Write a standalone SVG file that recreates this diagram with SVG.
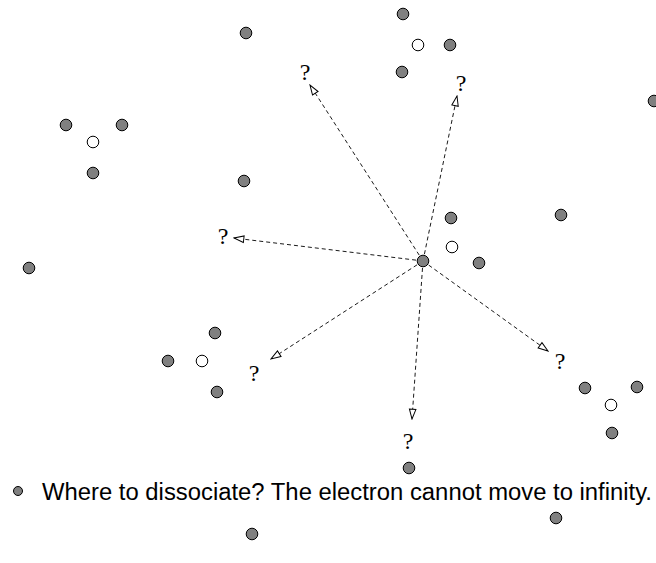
<svg xmlns="http://www.w3.org/2000/svg" width="656" height="563" viewBox="0 0 656 563">
<defs>
<style>
.f{fill:#808080;stroke:#000;stroke-width:1}
.o{fill:#fff;stroke:#000;stroke-width:1}
.c{stroke:#000;stroke-width:0.9;stroke-dasharray:4 3;fill:none;marker-end:url(#ah)}
.q{font-family:"Liberation Serif","Times New Roman",serif;font-size:24px;fill:#000;text-anchor:middle}
.t{font-family:"Liberation Sans",Arial,sans-serif;font-size:23px;fill:#000}
</style>
<marker id="ah" markerUnits="userSpaceOnUse" markerWidth="12" markerHeight="10" refX="9" refY="3" orient="auto" viewBox="-1 -1 11 8">
<path d="M0,0 L9,3 L0,6 z" fill="#fff" stroke="#000" stroke-width="0.9" stroke-dasharray="none"/>
</marker>
</defs>
<g id="connectors">
<line class="c" x1="423" y1="261" x2="310" y2="85"/>
<line class="c" x1="423" y1="261" x2="457" y2="96"/>
<line class="c" x1="423" y1="261" x2="234" y2="238"/>
<line class="c" x1="423" y1="261" x2="271" y2="359"/>
<line class="c" x1="423" y1="261" x2="412" y2="419"/>
<line class="c" x1="423" y1="261" x2="548" y2="351"/>
</g>
<g id="labels">
<text class="q" x="305" y="80">?</text>
<text class="q" x="461" y="91">?</text>
<text class="q" x="223" y="244">?</text>
<text class="q" x="254" y="381">?</text>
<text class="q" x="408" y="449">?</text>
<text class="q" x="560" y="369">?</text>
</g>
<g id="center"><circle class="f" cx="423" cy="261" r="5.8"/></g>
<g id="cluster-center"><circle class="f" cx="451" cy="218" r="5.8"/><circle class="o" cx="452" cy="247" r="5.8"/><circle class="f" cx="479" cy="263" r="5.8"/></g>
<g id="cluster-top"><circle class="f" cx="403" cy="14" r="5.8"/><circle class="o" cx="418" cy="45" r="5.8"/><circle class="f" cx="450" cy="45" r="5.8"/><circle class="f" cx="402" cy="72" r="5.8"/></g>
<g id="cluster-left"><circle class="f" cx="66" cy="125" r="5.8"/><circle class="f" cx="122" cy="125" r="5.8"/><circle class="o" cx="93" cy="142" r="5.8"/><circle class="f" cx="93" cy="173" r="5.8"/></g>
<g id="cluster-bottom-left"><circle class="f" cx="215" cy="333" r="5.8"/><circle class="f" cx="168" cy="361" r="5.8"/><circle class="o" cx="202" cy="361" r="5.8"/><circle class="f" cx="217" cy="392" r="5.8"/></g>
<g id="cluster-bottom-right"><circle class="f" cx="585" cy="388" r="5.8"/><circle class="f" cx="637" cy="387" r="5.8"/><circle class="o" cx="611" cy="405" r="5.8"/><circle class="f" cx="612" cy="433" r="5.8"/></g>
<g id="singles">
<circle class="f" cx="246" cy="33" r="5.8"/>
<circle class="f" cx="654" cy="101" r="5.8"/>
<circle class="f" cx="244" cy="181" r="5.8"/>
<circle class="f" cx="561" cy="215" r="5.8"/>
<circle class="f" cx="29" cy="268" r="5.8"/>
<circle class="f" cx="409" cy="468" r="5.8"/>
<circle class="f" cx="556" cy="518" r="5.8"/>
<circle class="f" cx="252" cy="534" r="5.8"/>
</g>
<g id="legend">
<circle class="f" cx="18" cy="491" r="4.5"/>
<text class="t" x="42" y="500" textLength="610" lengthAdjust="spacingAndGlyphs">Where to dissociate? The electron cannot move to infinity.</text>
</g>
</svg>
